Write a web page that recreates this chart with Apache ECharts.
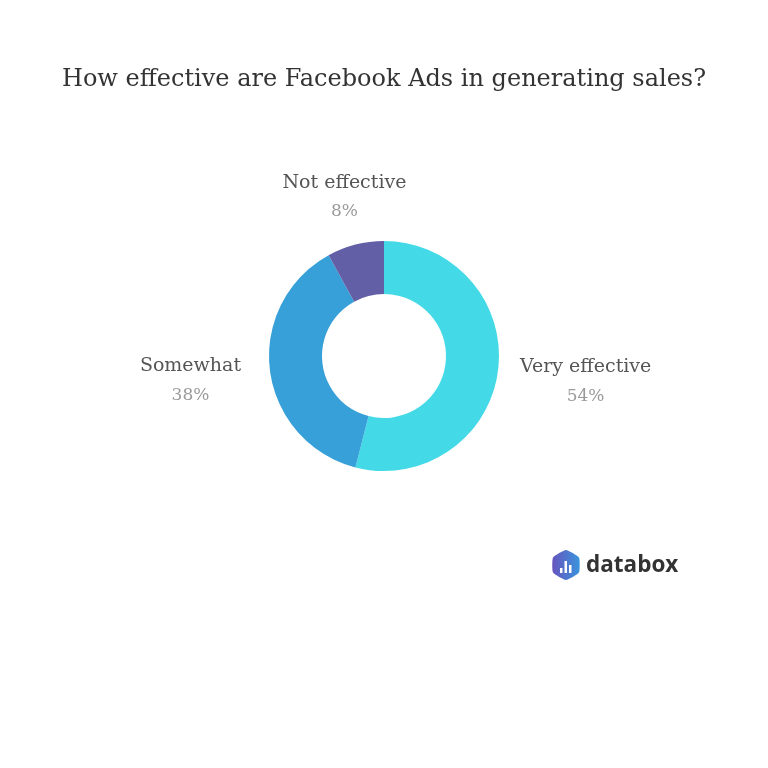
<!DOCTYPE html>
<html>
<head>
<meta charset="utf-8">
<script src="https://cdn.jsdelivr.net/npm/echarts@6/dist/echarts.min.js"></script>
<style>html,body{margin:0;padding:0;background:#fff}#c{width:768px;height:768px}</style>
</head>
<body>
<div id="c"></div>
<script>
const titleText = 'How effective are Facebook Ads in generating sales?';
const categories = ['Very effective', 'Somewhat', 'Not effective'];
const values = [54, 38, 8];
const colors = ['#43D9E6', '#37A0D9', '#625FA6'];

const chart = echarts.init(document.getElementById('c'));
const serif = '"DejaVu Serif", serif';
chart.setOption({
  backgroundColor: '#fff',
  animation: false,
  title: {
    text: titleText, left: 'center', top: 63,
    textStyle: { fontFamily: serif, fontSize: 24, fontWeight: 'normal', color: '#333' }
  },
  series: [{
    type: 'pie',
    center: [384, 356],
    radius: [62, 115],
    startAngle: 90,
    clockwise: true,
    data: categories.map((c, i) => ({ name: c, value: values[i], itemStyle: { color: colors[i] } })),
    label: {
      show: true, position: 'outside',
      formatter: p => '{a|' + p.name + '}\n{b|' + p.value + '%}',
      rich: {
        a: { fontFamily: serif, fontSize: 19, color: '#555', lineHeight: 29, align: 'center' },
        b: { fontFamily: serif, fontSize: 17, color: '#9a9a9a', lineHeight: 29, align: 'center' }
      }
    },
    labelLine: { show: false, length: 20, length2: 0 },
    labelLayout: p => {
      if (p.dataIndex === 2) return { align: 'center', verticalAlign: 'bottom', dx: -1, dy: 1 };
      if (p.dataIndex === 0) return { dx: -3, dy: 9 };
      return { dx: -4, dy: 8 };
    }
  }],
  graphic: [
    {
      type: 'polygon', z: 10,
      shape: { points: [[566, 550], [579, 557.5], [579, 572.5], [566, 580], [553, 572.5], [553, 557.5]], smooth: 0.15 },
      style: { fill: new echarts.graphic.LinearGradient(0, 0, 1, 0, [{ offset: 0, color: '#6655BE' }, { offset: 1, color: '#3A94DC' }]) }
    },
    { type: 'rect', z: 11, shape: { x: 560, y: 568, width: 2.5, height: 5 }, style: { fill: '#fff' } },
    { type: 'rect', z: 11, shape: { x: 564.5, y: 561, width: 2.5, height: 12 }, style: { fill: '#fff' } },
    { type: 'rect', z: 11, shape: { x: 569, y: 565, width: 2.5, height: 8 }, style: { fill: '#fff' } },
    {
      type: 'text', z: 10, x: 586, y: 566,
      style: { text: 'databox', fill: '#333', font: 'bold 22.5px "Open Sans", sans-serif', textVerticalAlign: 'middle' }
    }
  ]
});
</script>
</body>
</html>
